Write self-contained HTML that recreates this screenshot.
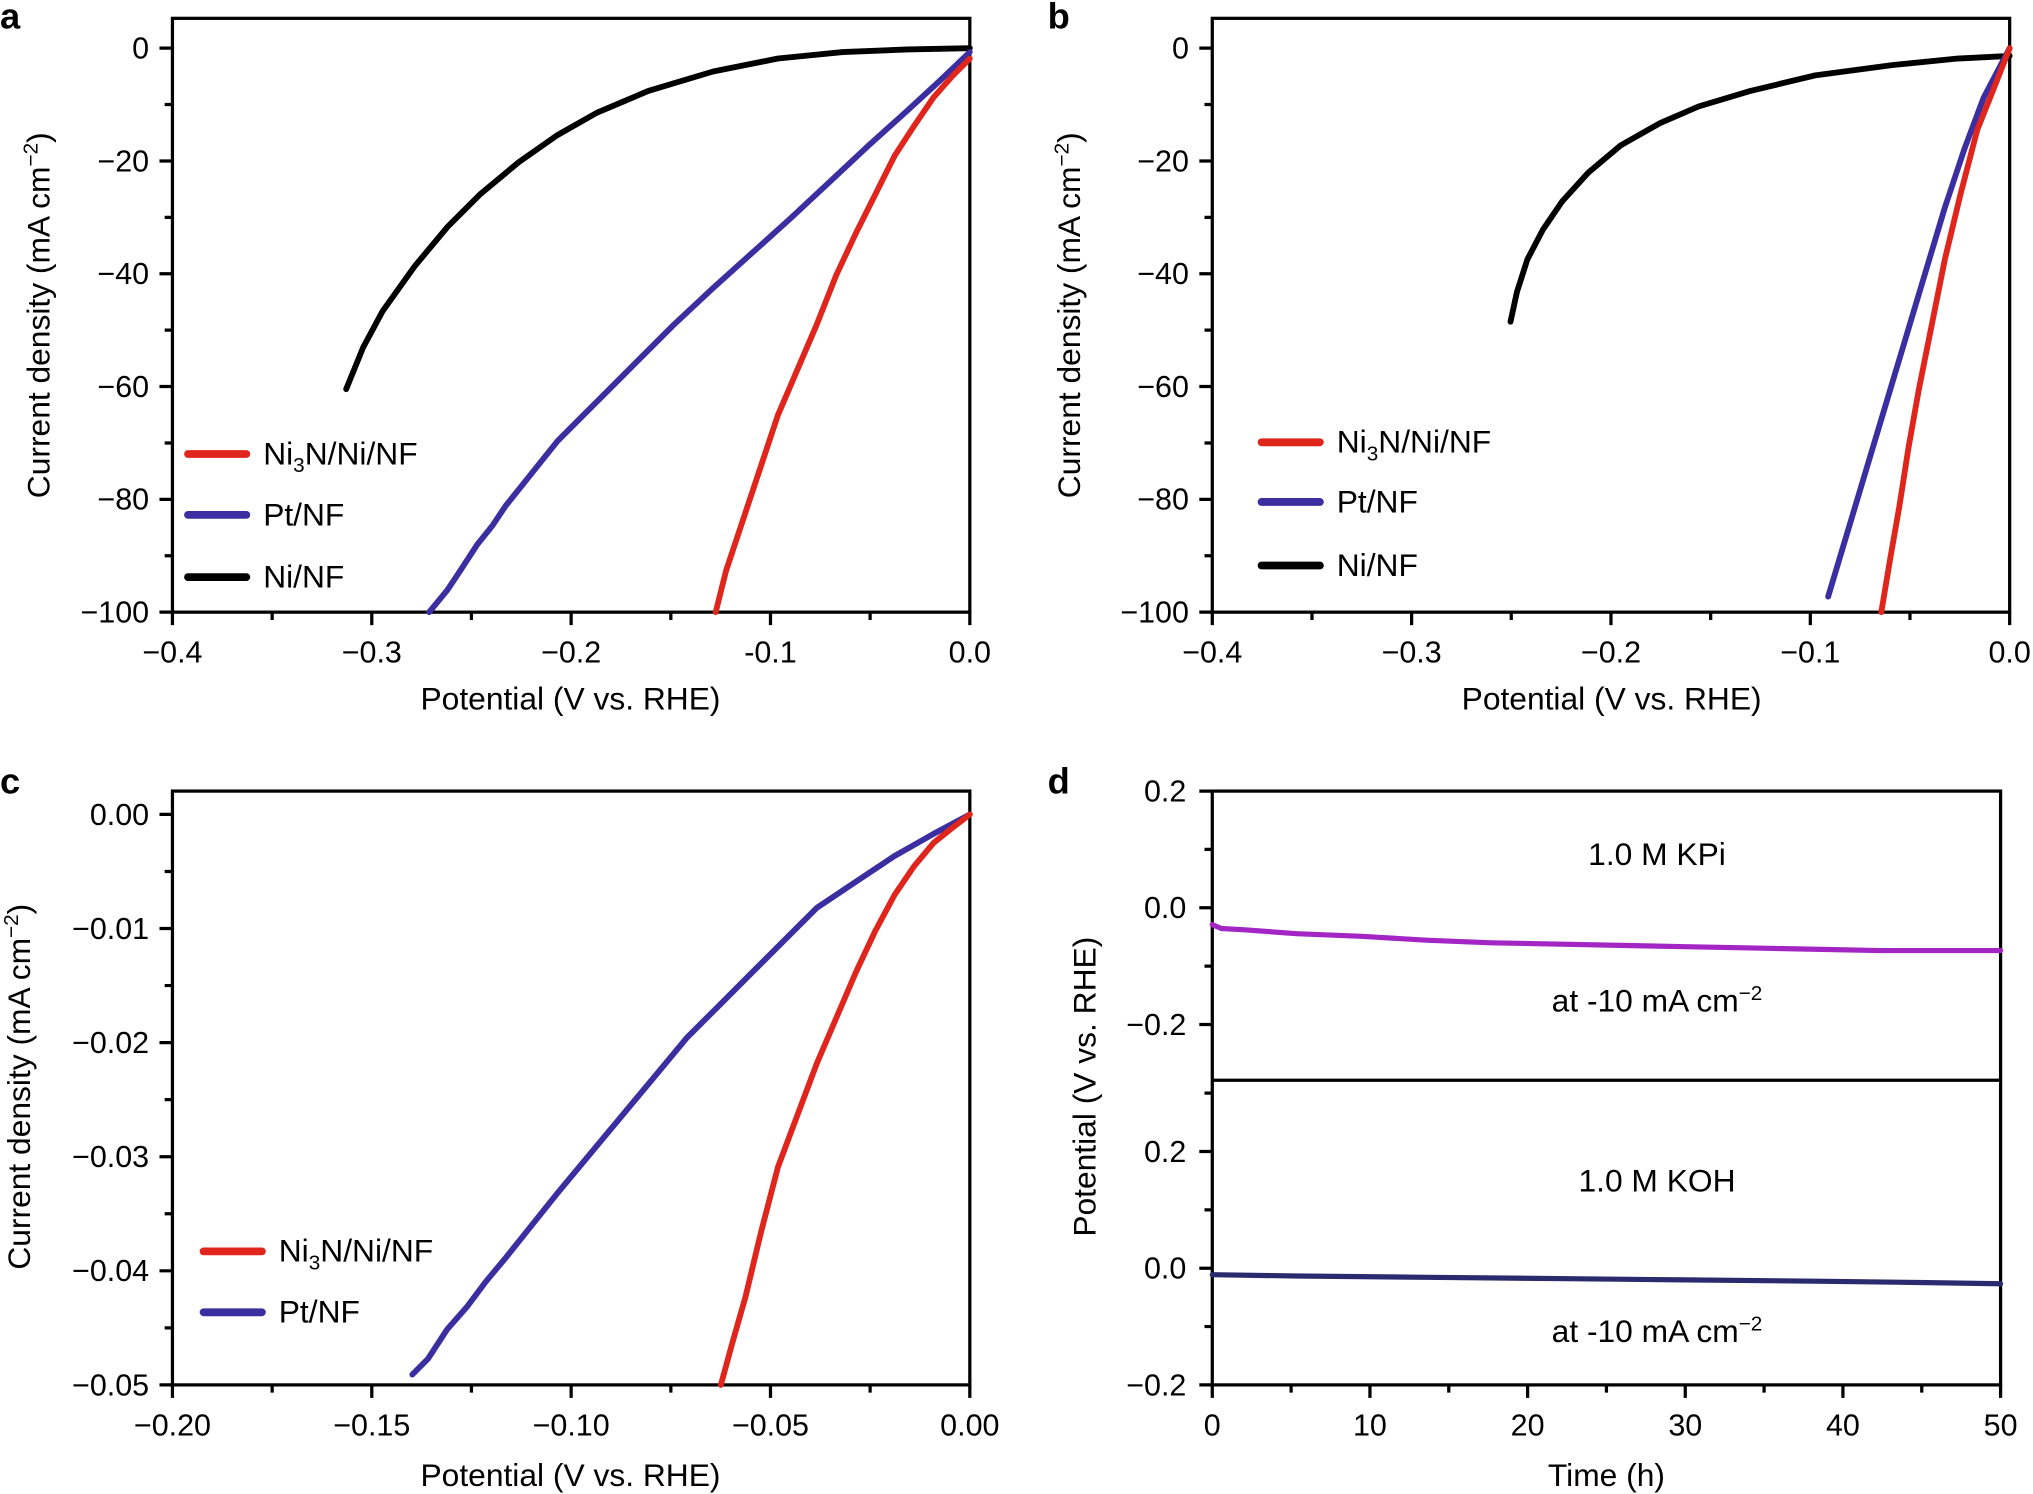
<!DOCTYPE html>
<html><head><meta charset="utf-8"><style>
html,body{margin:0;padding:0;background:#fff}
svg{display:block}
text{font-family:"Liberation Sans",Arial,sans-serif;fill:#000}
.t{font-size:23.5px}
.l{font-size:24.5px}
.p{font-size:28px;font-weight:bold}
</style></head><body>
<svg width="2033" height="1494" viewBox="0 0 1568 1152" xmlns="http://www.w3.org/2000/svg">
<g fill="none" stroke="#000" stroke-width="2.5">
<rect x="133" y="14" width="615" height="458"/>
<path d="M133 37h-10M133 124h-10M133 211h-10M133 298h-10M133 385h-10M133 472h-10M133 80.5h-6M133 167.5h-6M133 254.5h-6M133 341.5h-6M133 428.5h-6
M133 472v10M286.75 472v10M440.5 472v10M594.25 472v10M748 472v10M209.9 472v6M363.6 472v6M517.4 472v6M671.1 472v6"/>
<rect x="935" y="14" width="615" height="458"/>
<path d="M935 37h-10M935 124h-10M935 211h-10M935 298h-10M935 385h-10M935 472h-10M935 80.5h-6M935 167.5h-6M935 254.5h-6M935 341.5h-6M935 428.5h-6
M935 472v10M1088.75 472v10M1242.5 472v10M1396.25 472v10M1550 472v10M1011.9 472v6M1165.6 472v6M1319.4 472v6M1473.1 472v6"/>
<rect x="133" y="610" width="615" height="458"/>
<path d="M133 628h-10M133 716h-10M133 804h-10M133 892h-10M133 980h-10M133 1068h-10M133 672h-6M133 760h-6M133 848h-6M133 936h-6M133 1024h-6
M133 1068v10M286.75 1068v10M440.5 1068v10M594.25 1068v10M748 1068v10M209.9 1068v6M363.6 1068v6M517.4 1068v6M671.1 1068v6"/>
<rect x="935" y="610" width="608" height="458"/>
<path d="M935 833h608"/>
<path d="M935 610h-10M935 700h-10M935 790h-10M935 655h-6M935 745h-6M935 888h-10M935 978h-10M935 1068h-10M935 843h-6M935 933h-6M935 1023h-6
M935 1068v10M1056.6 1068v10M1178.2 1068v10M1299.8 1068v10M1421.4 1068v10M1543 1068v10M995.8 1068v6M1117.4 1068v6M1239 1068v6M1360.6 1068v6M1482.2 1068v6"/>
</g>
<g fill="none" stroke-width="4.5" stroke-linejoin="round" stroke-linecap="round">
<polyline stroke="#000" points="267,300 280,268 295,240 320,205 345,175 370,150 400,125 430,104 460,87 500,70 550,55 600,45 650,40 700,38 748,37"/>
<polyline stroke="#3a2ea0" points="331,472 345,455 355,440 368,420 380,405 390,390 410,365 430,340 450,320 470,300 490,280 520,250 550,222 580,195 610,168 640,140 670,112 700,85 725,62 748,40"/>
<polyline stroke="#e0261c" points="552,472 560,440 570,410 585,365 600,320 615,285 630,250 645,212 660,180 675,150 690,120 705,97 720,75 735,58 748,45"/>
<polyline stroke="#000" points="1165,248 1170,225 1178,200 1190,177 1205,155 1225,133 1250,112 1280,95 1310,82 1350,70 1400,58 1460,50 1510,45 1550,43"/>
<polyline stroke="#3a2ea0" points="1410,460 1425,410 1440,360 1455,310 1470,260 1485,210 1500,160 1515,115 1530,75 1550,37"/>
<polyline stroke="#e0261c" points="1451,472 1458,430 1465,390 1472,345 1480,300 1490,250 1500,200 1512,150 1525,100 1537,70 1550,37"/>
<polyline stroke="#3a2ea0" points="318,1060 330,1048 345,1025 360,1008 375,988 390,970 410,945 430,920 455,890 480,860 505,830 530,800 555,775 580,750 605,725 630,700 660,680 690,660 720,643 748,628"/>
<polyline stroke="#e0261c" points="556,1068 565,1035 575,1000 587,950 600,900 615,860 630,820 645,785 660,750 675,718 690,690 705,668 720,650 735,638 748,628"/>
<polyline stroke="#a225c4" stroke-width="4" points="935,713 942,716 960,717 1000,720 1050,722 1100,725 1150,727 1200,728 1250,729 1300,730 1350,731 1400,732 1450,733 1500,733 1543,733"/>
<polyline stroke="#2a2a6e" stroke-width="4" points="935,983 1000,984 1100,985 1200,986 1300,987 1400,988 1480,989 1543,990"/>
</g>
<g stroke-width="6" stroke-linecap="round">
<line x1="145" y1="350" x2="190" y2="350" stroke="#e0261c"/>
<line x1="145" y1="397" x2="190" y2="397" stroke="#3a2ea0"/>
<line x1="145" y1="445" x2="190" y2="445" stroke="#000"/>
<line x1="973" y1="341" x2="1018" y2="341" stroke="#e0261c"/>
<line x1="973" y1="387" x2="1018" y2="387" stroke="#3a2ea0"/>
<line x1="973" y1="436" x2="1018" y2="436" stroke="#000"/>
<line x1="157" y1="965" x2="202" y2="965" stroke="#e0261c"/>
<line x1="157" y1="1012" x2="202" y2="1012" stroke="#3a2ea0"/>
</g>
<g class="l">
<text x="203" y="358">Ni<tspan font-size="16" dy="6">3</tspan><tspan dy="-6">N/Ni/NF</tspan></text>
<text x="203" y="405">Pt/NF</text>
<text x="203" y="453">Ni/NF</text>
<text x="1031" y="349">Ni<tspan font-size="16" dy="6">3</tspan><tspan dy="-6">N/Ni/NF</tspan></text>
<text x="1031" y="395">Pt/NF</text>
<text x="1031" y="444">Ni/NF</text>
<text x="215" y="973">Ni<tspan font-size="16" dy="6">3</tspan><tspan dy="-6">N/Ni/NF</tspan></text>
<text x="215" y="1020">Pt/NF</text>
<text x="1278" y="667" text-anchor="middle">1.0 M KPi</text>
<text x="1278" y="780" text-anchor="middle">at -10 mA cm<tspan font-size="16" dy="-9">−2</tspan></text>
<text x="1278" y="919" text-anchor="middle">1.0 M KOH</text>
<text x="1278" y="1035" text-anchor="middle">at -10 mA cm<tspan font-size="16" dy="-9">−2</tspan></text>
</g>
<g class="t" text-anchor="end">
<text x="115" y="45">0</text><text x="115" y="132">−20</text><text x="115" y="219">−40</text><text x="115" y="306">−60</text><text x="115" y="393">−80</text><text x="115" y="480">−100</text>
<text x="917" y="45">0</text><text x="917" y="132">−20</text><text x="917" y="219">−40</text><text x="917" y="306">−60</text><text x="917" y="393">−80</text><text x="917" y="480">−100</text>
<text x="115" y="636">0.00</text><text x="115" y="724">−0.01</text><text x="115" y="812">−0.02</text><text x="115" y="900">−0.03</text><text x="115" y="988">−0.04</text><text x="115" y="1076">−0.05</text>
<text x="915" y="618">0.2</text><text x="915" y="708">0.0</text><text x="915" y="798">−0.2</text>
<text x="915" y="896">0.2</text><text x="915" y="986">0.0</text><text x="915" y="1076">−0.2</text>
</g>
<g class="t" text-anchor="middle">
<text x="133" y="511">−0.4</text><text x="286.75" y="511">−0.3</text><text x="440.5" y="511">−0.2</text><text x="594.25" y="511">-0.1</text><text x="748" y="511">0.0</text>
<text x="935" y="511">−0.4</text><text x="1088.75" y="511">−0.3</text><text x="1242.5" y="511">−0.2</text><text x="1396.25" y="511">−0.1</text><text x="1550" y="511">0.0</text>
<text x="133" y="1107">−0.20</text><text x="286.75" y="1107">−0.15</text><text x="440.5" y="1107">−0.10</text><text x="594.25" y="1107">−0.05</text><text x="748" y="1107">0.00</text>
<text x="935" y="1107">0</text><text x="1056.6" y="1107">10</text><text x="1178.2" y="1107">20</text><text x="1299.8" y="1107">30</text><text x="1421.4" y="1107">40</text><text x="1543" y="1107">50</text>
</g>
<g class="l" text-anchor="middle">
<text x="440" y="547">Potential (V vs. RHE)</text>
<text x="1243" y="547">Potential (V vs. RHE)</text>
<text x="440" y="1146">Potential (V vs. RHE)</text>
<text x="1239" y="1146">Time (h)</text>
<text transform="translate(38,243) rotate(-90)">Current density (mA cm<tspan font-size="16" dy="-9">−2</tspan><tspan dy="9">)</tspan></text>
<text transform="translate(833,243) rotate(-90)">Current density (mA cm<tspan font-size="16" dy="-9">−2</tspan><tspan dy="9">)</tspan></text>
<text transform="translate(23,838) rotate(-90)">Current density (mA cm<tspan font-size="16" dy="-9">−2</tspan><tspan dy="9">)</tspan></text>
<text transform="translate(845,838) rotate(-90)">Potential (V vs. RHE)</text>
</g>
<g class="p">
<text x="0" y="22">a</text><text x="808" y="22">b</text><text x="0" y="612">c</text><text x="808" y="612">d</text>
</g>
</svg>
</body></html>
